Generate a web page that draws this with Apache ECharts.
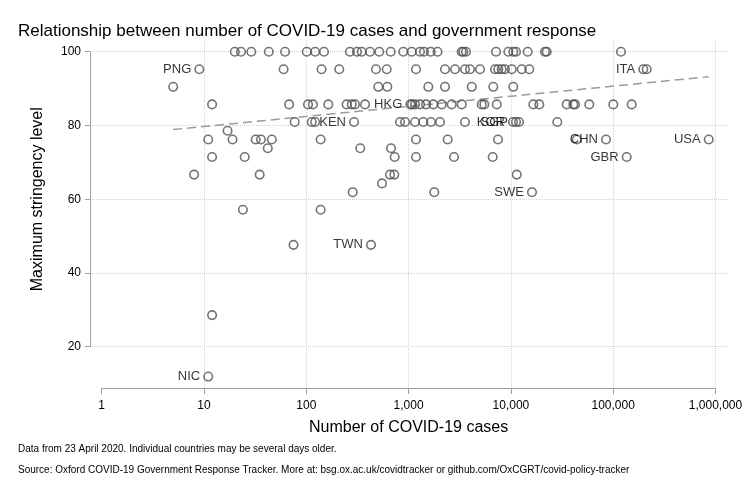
<!DOCTYPE html>
<html><head><meta charset="utf-8">
<script src="https://cdn.jsdelivr.net/npm/echarts@6/dist/echarts.min.js"></script>
<style>html,body{margin:0;padding:0;background:#fff}#c{width:745px;height:497px}</style>
</head><body><div id="c"></div>
<script>
const FONT = '"Liberation Sans", Arial, Helvetica, sans-serif';

// Stringency levels (rows) and the case counts of unlabeled countries at each level
const levels = [100, 95.24, 90.48, 85.71, 80.95, 78.57, 76.19, 73.81, 71.43, 66.67, 64.29, 61.9, 57.14, 47.62, 28.57];
const row100 = [20, 23, 29, 43, 62, 101, 122, 149, 267, 313, 348, 420, 517, 668, 888, 1072, 1292, 1415, 1644, 1918, 3304, 3427, 3641, 7158, 9440, 10550, 11220, 14590, 21530, 22390, 119200];
const row95 = [60, 141, 210, 480, 611, 1181, 2269, 2843, 3558, 3981, 4989, 6993, 7530, 8128, 8758, 10186, 12760, 15140, 212500];
const row90 = [5, 506, 619, 1559, 2269, 4139, 6730, 10550];
const row86 = [12, 68, 104, 116, 164, 248, 278, 299, 375, 1080, 1155, 1292, 1480, 1743, 2108, 2637, 3304, 5187, 5499, 7270, 16560, 18960, 35100, 40740, 42360, 58360, 100200, 151700];
const row81 = [77, 113, 122, 824, 923, 1155, 1393, 1656, 2028, 3558, 12000, 28420];
const row79 = [17];
const row76 = [11, 19, 32, 36, 46, 138, 1181, 2410, 7480, 43970];
const row74 = [42, 337, 673];
const row71 = [12, 25, 731, 1181, 2780, 6637];
const row67 = [8, 35, 658, 725, 11400];
const row64 = [550];
const row62 = [284, 1783];
const row57 = [24, 138];
const row48 = [75];
const row29 = [12];
const casesByLevel = [row100, row95, row90, row86, row81, row79, row76, row74, row71, row67, row64, row62, row57, row48, row29];

// Labeled countries
const labelCodes  = ['PNG', 'ITA', 'HKG', 'KEN', 'SGP', 'KOR', 'CHN', 'USA', 'GBR', 'SWE', 'TWN', 'NIC'];
const labelCases  = [9, 196800, 1040, 293, 11220, 10490, 85110, 858700, 135500, 16070, 429, 11];
const labelLevels = [95.24, 95.24, 85.71, 80.95, 80.95, 80.95, 76.19, 76.19, 71.43, 61.9, 47.62, 11.9];

// Fitted trend line endpoints
const trendCases  = [5, 858700];
const trendLevels = [78.9, 93.2];

const points = [];
levels.forEach((lv, i) => casesByLevel[i].forEach(c => points.push([c, lv])));
const labeled = labelCodes.map((code, i) => ({ name: code, value: [labelCases[i], labelLevels[i]] }));
const trend = trendCases.map((c, i) => [c, trendLevels[i]]);

function fmt(v) { return String(Math.round(v)).replace(/\B(?=(\d{3})+(?!\d))/g, ','); }

const grey = '#a0a0a0';
const gridLine = { show: true, lineStyle: { type: 'dotted', color: '#d2d2d2', width: 1 } };
const circleStyle = { color: 'rgba(0,0,0,0)', borderColor: '#505050', borderWidth: 1.6 };

const chart = echarts.init(document.getElementById('c'), null, { renderer: 'canvas' });
chart.setOption({
  animation: false,
  backgroundColor: '#fff',
  textStyle: { fontFamily: FONT },
  title: [
    { text: 'Relationship between number of COVID-19 cases and government response', left: 18, top: 23, padding: 0,
      textStyle: { fontFamily: FONT, fontSize: 17, fontWeight: 'normal', color: '#000' } },
    { text: 'Data from 23 April 2020. Individual countries may be several days older.', left: 18, top: 444, padding: 0,
      textStyle: { fontFamily: FONT, fontSize: 10, fontWeight: 'normal', color: '#000' } },
    { text: 'Source: Oxford COVID-19 Government Response Tracker. More at: bsg.ox.ac.uk/covidtracker or github.com/OxCGRT/covid-policy-tracker', left: 18, top: 465, padding: 0,
      textStyle: { fontFamily: FONT, fontSize: 10, fontWeight: 'normal', color: '#000' } }
  ],
  grid: [
    { left: 101.7, right: 29.5, top: 51.7, bottom: 150.3, outerBoundsMode: 'none', containLabel: false },
    { left: 101.7, right: 29.5, top: 40, bottom: 109, outerBoundsMode: 'none', containLabel: false },
    { left: 90, right: 17, top: 51.7, bottom: 150.3, outerBoundsMode: 'none', containLabel: false }
  ],
  xAxis: [
    { gridIndex: 0, type: 'log', logBase: 10, min: 1, max: 1000000, show: false },
    { gridIndex: 1, type: 'log', logBase: 10, min: 1, max: 1000000,
      axisLine: { show: true, lineStyle: { color: grey, width: 1 } },
      axisTick: { show: true, length: 6, lineStyle: { color: grey } },
      axisLabel: { show: true, margin: 12, formatter: fmt, color: '#000', fontSize: 12, fontFamily: FONT,
                   showMinLabel: true, showMaxLabel: true },
      splitLine: Object.assign({ showMinLine: false, showMaxLine: true }, gridLine),
      name: 'Number of COVID-19 cases', nameLocation: 'middle', nameGap: 32,
      nameTextStyle: { fontFamily: FONT, fontSize: 16, color: '#000' } },
    { gridIndex: 2, type: 'value', min: 0, max: 1, show: false }
  ],
  yAxis: [
    { gridIndex: 0, type: 'value', min: 20, max: 100, show: false },
    { gridIndex: 1, type: 'value', min: 0, max: 1, show: false },
    { gridIndex: 2, type: 'value', min: 20, max: 100, interval: 20,
      axisLine: { show: true, lineStyle: { color: grey, width: 1 } },
      axisTick: { show: true, length: 5, lineStyle: { color: grey } },
      axisLabel: { show: true, margin: 9, color: '#000', fontSize: 12, fontFamily: FONT },
      splitLine: gridLine,
      name: 'Maximum stringency level', nameLocation: 'middle', nameGap: 44,
      nameTextStyle: { fontFamily: FONT, fontSize: 16, color: '#000' } }
  ],
  series: [
    { type: 'line', xAxisIndex: 0, yAxisIndex: 0, data: trend, symbol: 'none', silent: true, z: 1,
      lineStyle: { type: [9, 5], color: '#9a9a9a', width: 1.5 } },
    { type: 'scatter', xAxisIndex: 0, yAxisIndex: 0, data: points, symbol: 'circle', symbolSize: 8.5,
      clip: false, itemStyle: circleStyle, z: 2 },
    { type: 'scatter', xAxisIndex: 0, yAxisIndex: 0, data: labeled, symbol: 'circle', symbolSize: 8.5,
      clip: false, itemStyle: circleStyle, z: 3,
      label: { show: true, position: 'left', distance: 3, formatter: '{b}', fontFamily: FONT, fontSize: 13, color: '#000' } }
  ]
});
</script>
</body></html>
